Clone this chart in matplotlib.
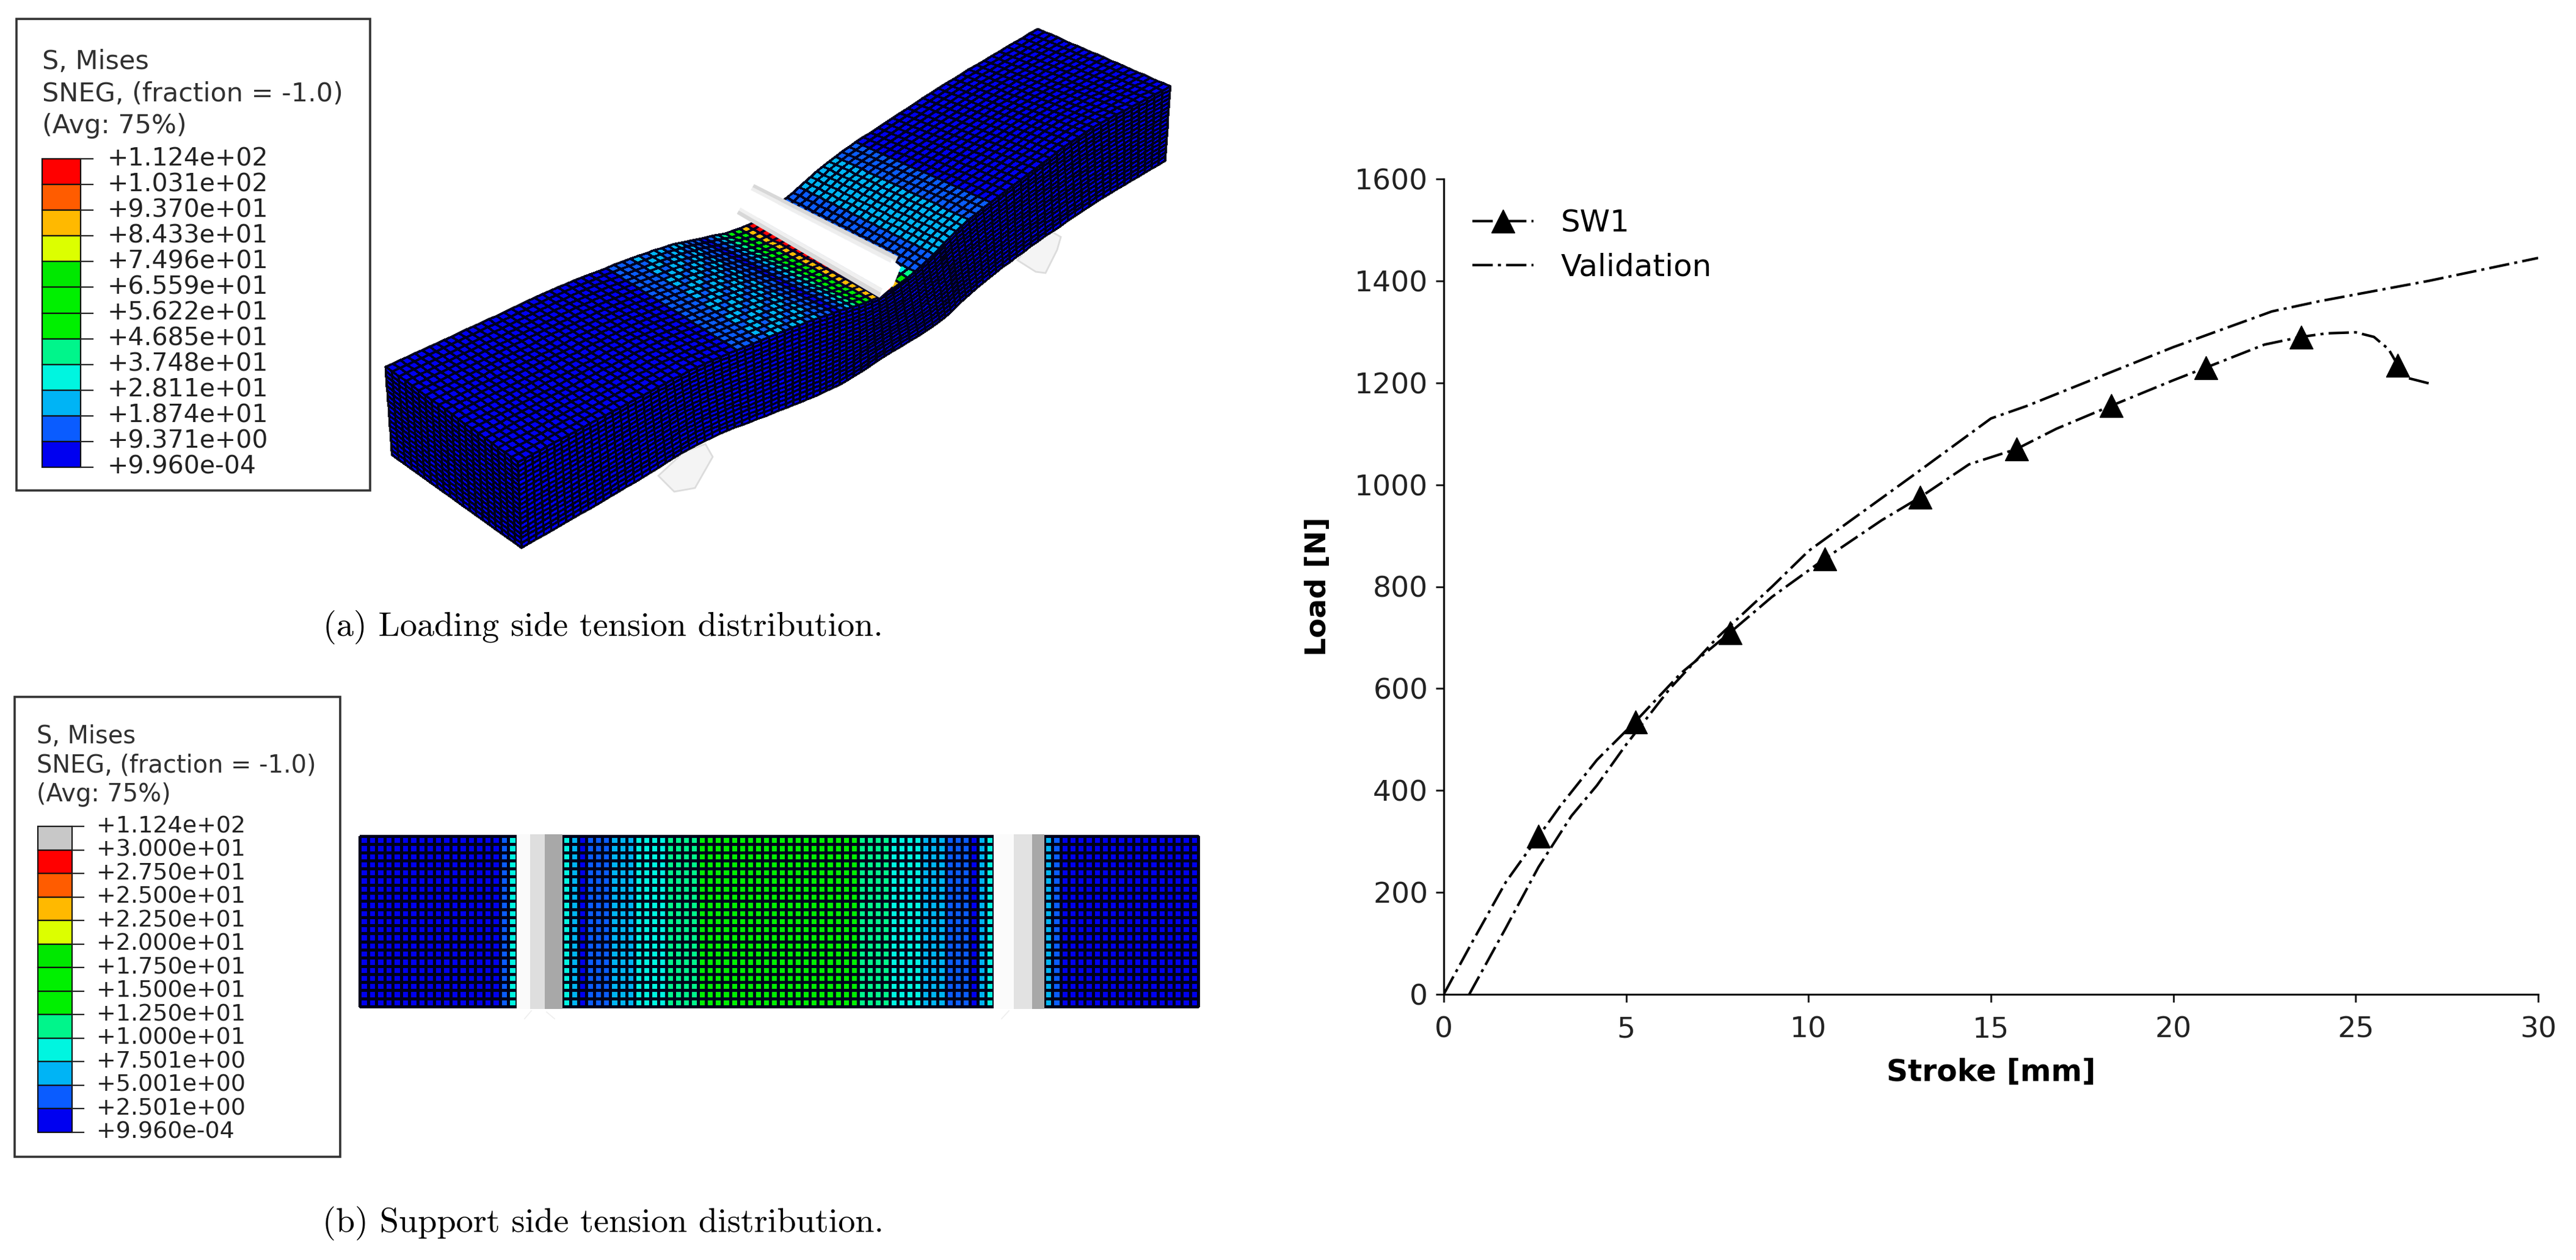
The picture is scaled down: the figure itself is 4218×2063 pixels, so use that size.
import numpy as np
import matplotlib
matplotlib.use("Agg")
import matplotlib.pyplot as plt
from matplotlib.colors import ListedColormap
from matplotlib.patches import Polygon, Rectangle

W, H = 4218, 2063
plt.rcParams["font.family"] = "DejaVu Sans"
plt.rcParams["lines.scale_dashes"] = False

# ---- load / stroke curves
sw1_x = [0, 0.8, 1.7, 2.6, 3.2, 4.2, 5.25, 6.5, 7.85, 9, 10.45, 12, 13.05, 14.4, 15.7, 16.8,
         18.3, 20, 20.9, 22.5, 23.5, 24.2, 25, 25.5, 25.9, 26.15, 26.45, 27]
sw1_y = [0, 105, 220, 310, 370, 460, 535, 630, 710, 780, 855, 930, 975, 1040, 1070, 1110,
         1155, 1205, 1230, 1275, 1290, 1297, 1299, 1290, 1266, 1235, 1209, 1199]
sw1_markers = [3, 6, 8, 10, 12, 14, 16, 18, 20, 25]
val_x = [0.7, 1.7, 2.6, 3.5, 4.2, 5, 6.2, 7.5, 9, 10, 12.9, 15, 16, 20, 22.7, 24, 27, 30]
val_y = [0, 130, 250, 350, 410, 490, 600, 700, 800, 870, 1020, 1130, 1155, 1270, 1340, 1360, 1400, 1445]
x_ticks = [0, 5, 10, 15, 20, 25, 30]
y_ticks = [0, 200, 400, 600, 800, 1000, 1200, 1400, 1600]

# ---- contour legends
title_rows = ["S, Mises", "SNEG, (fraction = -1.0)", "(Avg: 75%)"]
labels_a = ["+1.124e+02", "+1.031e+02", "+9.370e+01", "+8.433e+01", "+7.496e+01", "+6.559e+01", "+5.622e+01",
            "+4.685e+01", "+3.748e+01", "+2.811e+01", "+1.874e+01", "+9.371e+00", "+9.960e-04"]
labels_b = ["+1.124e+02", "+3.000e+01", "+2.750e+01", "+2.500e+01", "+2.250e+01", "+2.000e+01", "+1.750e+01",
            "+1.500e+01", "+1.250e+01", "+1.000e+01", "+7.501e+00", "+5.001e+00", "+2.501e+00", "+9.960e-04"]
# bottom to top
level_colors = ["#0000f0", "#0a5cff", "#00b4f5", "#00f5e0", "#00f58b", "#00f000", "#00f000", "#00e800",
                "#dcff00", "#ffb900", "#ff5c00", "#ff0000"]
over_color = "#c8c8c8"

# ---- deformed beam outline (pixel stations along the length)
station_col = [0, 12, 24, 36, 44, 49, 52, 55, 62, 69, 79, 90]
back_x = [631, 775, 925, 1086, 1161, 1224, 1255, 1290, 1355, 1436, 1561, 1699]
back_y = [600, 534, 464, 403, 387, 374, 350, 323, 263, 209, 128, 47]
front_x = [848, 990, 1140, 1299, 1387, 1436, 1474, 1512, 1572, 1660, 1777, 1916]
front_y = [756, 680, 600, 535, 504, 491, 464, 434, 369, 302, 214, 141]
bottom_x = [854, 1000, 1155, 1300, 1385, 1447, 1490, 1534, 1588, 1664, 1785, 1908]
bottom_y = [897, 813, 719, 663, 627, 583, 558, 534, 480, 420, 336, 263]

# contour level of every column on the top face
top_levels = [0] * 29 + [1, 1, 1, 2, 2, 2, 2, 2, 2, 2, 2, 1, 1, 0, 1, 2, 4, 6, 7, 9, 11] + \
             [1] * 7 + [2] * 6 + [1, 1, 1] + [0] * 24
# hot corner that shows below the end of the roller (column: levels of the last two rows)
corner_levels = {50: [9, 11], 51: [7, 9], 52: [5, 7], 53: [3, 4]}

# ---- flat view of the support side (columns of the three mesh blocks)
left_block = [0] * 17 + [1, 3]
mid_half = [3, 2, 0, 1, 1, 1, 2, 2, 2, 3, 3, 3, 3, 4, 4, 4, 4]
mid_block = mid_half + [5] * 20 + mid_half[::-1]
right_block = [2, 1] + [0] * 17

cmap = ListedColormap(level_colors)


def column_edge(xs, ys, n):
    cols = np.arange(n + 1)
    return smooth(np.interp(cols, station_col, xs)), smooth(np.interp(cols, station_col, ys))


def smooth(v, k=3):
    out = v.copy()
    out[k:-k] = np.convolve(v, np.ones(2 * k + 1) / (2 * k + 1), "valid")
    return out


def strip_mesh(ax, x0, y0, x1, y1, rows, levels, edge="#000022", lw=1.9):
    t = np.linspace(0, 1, rows + 1)[:, None]
    X = (1 - t) * x0 + t * x1
    Y = (1 - t) * y0 + t * y1
    C = np.array(levels)
    if C.ndim == 1:
        C = np.tile(C, (rows, 1))
    ax.pcolormesh(X, Y, C, cmap=cmap, vmin=-0.5, vmax=11.5, edgecolors=edge, linewidth=lw)


def draw_legend(ax, box, bar, tick_end, text_x, title_x, title_ys, title_size, label_size, labels, colors):
    ax.add_patch(Rectangle((box[0], box[1]), box[2] - box[0], box[3] - box[1], fc="white", ec="#333333", lw=2.6))
    for txt, y in zip(title_rows, title_ys):
        ax.text(title_x, y, txt, fontsize=title_size, color="#303030", va="center", ha="left")
    ys = np.linspace(bar[1], bar[3], len(labels))
    for i, c in enumerate(colors):
        ax.add_patch(Rectangle((bar[0], ys[i]), bar[2] - bar[0], ys[i + 1] - ys[i], fc=c, ec="#111111", lw=1.6))
    for y, txt in zip(ys, labels):
        ax.plot([bar[2], tick_end], [y, y], color="#222222", lw=1.6)
        ax.text(text_x, y, txt, fontsize=label_size, color="#222222", va="center", ha="left")


fig = plt.figure(figsize=(W / 100, H / 100), dpi=100)

# full page axes in pixels for the FE pictures
fe = fig.add_axes([0, 0, 1, 1])
fe.set_xlim(0, W)
fe.set_ylim(H, 0)
fe.axis("off")

draw_legend(fe, (27, 31, 606, 803), (69, 260, 132, 765), 152, 176, 69, [101, 154, 206], 31, 29.5,
            labels_a, level_colors[::-1])
draw_legend(fe, (24, 1141, 557, 1894), (62, 1353, 118, 1854), 137, 158, 60, [1206, 1254, 1301], 28.7, 27.4,
            labels_b, [over_color] + level_colors[::-1])

# supports behind the beam
for pts in ([(1078, 779), (1104, 805), (1138, 799), (1167, 748), (1155, 727), (1120, 740)],
            [(1718, 377), (1737, 388), (1731, 409), (1712, 447), (1696, 445), (1666, 426), (1690, 395)]):
    fe.add_patch(Polygon(pts, fc="#f4f4f4", ec="#dcdcdc", lw=2))

bx, by = column_edge(back_x, back_y, 90)
fx, fy = column_edge(front_x, front_y, 90)
gx, gy = column_edge(bottom_x, bottom_y, 90)

# side, top and end faces
strip_mesh(fe, fx, fy, gx, gy, 18, [0] * 90, edge="#00001a", lw=1.7)
top_field = np.tile(top_levels, (20, 1))
for col, lv in corner_levels.items():
    top_field[-2:, col] = lv
# the band left of the roller is mottled, not a clean stripe
for r in range(20):
    for c in range(32, 40):
        if (r + c) % 3 == 0:
            top_field[r, c] = 1
strip_mesh(fe, bx, by, fx, fy, 20, top_field)
end_x0 = np.linspace(back_x[0], front_x[0], 21)
end_y0 = np.linspace(back_y[0], front_y[0], 21)
end_x1 = np.linspace(642, bottom_x[0], 21)
end_y1 = np.linspace(745, bottom_y[0], 21)
strip_mesh(fe, end_x0, end_y0, end_x1, end_y1, 18, [0] * 20, edge="#00001a", lw=1.7)

# loading roller on the top face
roller_top = np.array([[1235, 302], [1470, 420]])
roller_low = np.array([[1207, 350], [1440, 487]])
roller_fracs = [0, 0.1, 0.2, 0.8, 0.9, 1]
roller_greys = ["#d8d8d8", "#eeeeee", "#ffffff", "#f0f0f0", "#d8d8d8"]
for k, grey in enumerate(roller_greys):
    a = roller_top + (roller_low - roller_top) * roller_fracs[k]
    b = roller_top + (roller_low - roller_top) * roller_fracs[k + 1]
    fe.add_patch(Polygon([a[0], a[1], b[1], b[0]], fc=grey, ec=grey, lw=0.5))
fe.add_patch(Polygon([(1460, 425), (1475, 437), (1463, 467), (1440, 487)], fc="#ffffff", ec="none"))

# support side view
rows_b = 21
y_a = np.full(1, 1369.0)
y_b = np.full(1, 1648.0)
for x_start, x_end, cols in ((589, 846, left_block), (921, 1627, mid_block), (1710, 1962, right_block)):
    xe = np.linspace(x_start, x_end, len(cols) + 1)
    strip_mesh(fe, xe, y_a, xe, y_b, rows_b, cols, edge="#00001a", lw=2.2)
for x0, x1, grey in ((846, 868, "#fafafa"), (868, 892, "#dedede"), (892, 921, "#a8a8a8"),
                     (1627, 1660, "#fbfbfb"), (1660, 1690, "#e2e2e2"), (1690, 1710, "#a8a8a8")):
    fe.add_patch(Rectangle((x0, 1366), x1 - x0, 286, fc=grey, ec="none"))
for seg in ([(859, 1668), (870, 1655)], [(895, 1657), (908, 1668)], [(1640, 1668), (1652, 1655)]):
    fe.plot(*zip(*seg), color="#eeeeee", lw=1.2)

fe.text(987, 1027, "(a) Loading side tension distribution.", family="cmr10", fontsize=40.5, ha="center", va="center")
fe.text(987, 2003, "(b) Support side tension distribution.", family="cmr10", fontsize=40.5, ha="center", va="center")
fe.set_xlim(0, W)
fe.set_ylim(H, 0)

# load / stroke chart
ax = fig.add_axes([2364 / W, 1 - 1628 / H, (4156 - 2364) / W, (1628 - 293) / H])
ax.patch.set_alpha(0)
dash = (0, (24, 6, 3.6, 6))
ax.plot(sw1_x, sw1_y, color="black", lw=3, linestyle=dash, marker="^", ms=27, markevery=sw1_markers,
        mec="black", label="SW1")
ax.plot(val_x, val_y, color="black", lw=3, linestyle=dash, label="Validation")
ax.set_xlim(0, 30)
ax.set_ylim(0, 1600)
ax.set_xticks(x_ticks)
ax.set_yticks(y_ticks)
ax.tick_params(labelsize=34, length=9.5, width=2.2, color="#222222", labelcolor="#222222", pad=9)
ax.tick_params(axis="x", pad=16)
ax.spines["top"].set_visible(False)
ax.spines["right"].set_visible(False)
ax.spines["left"].set_linewidth(2.2)
ax.spines["bottom"].set_linewidth(2.2)
ax.set_xlabel("Stroke [mm]", fontsize=35, fontweight="bold", labelpad=17)
ax.set_ylabel("Load [N]", fontsize=34, fontweight="bold", labelpad=27)
ax.legend(loc="upper left", bbox_to_anchor=(0.018, 0.975), frameon=False, fontsize=36, handlelength=2.0,
          handletextpad=0.88, labelspacing=0.49, borderpad=0.3, borderaxespad=0, numpoints=1)

fig.savefig("out.png", dpi=100)
